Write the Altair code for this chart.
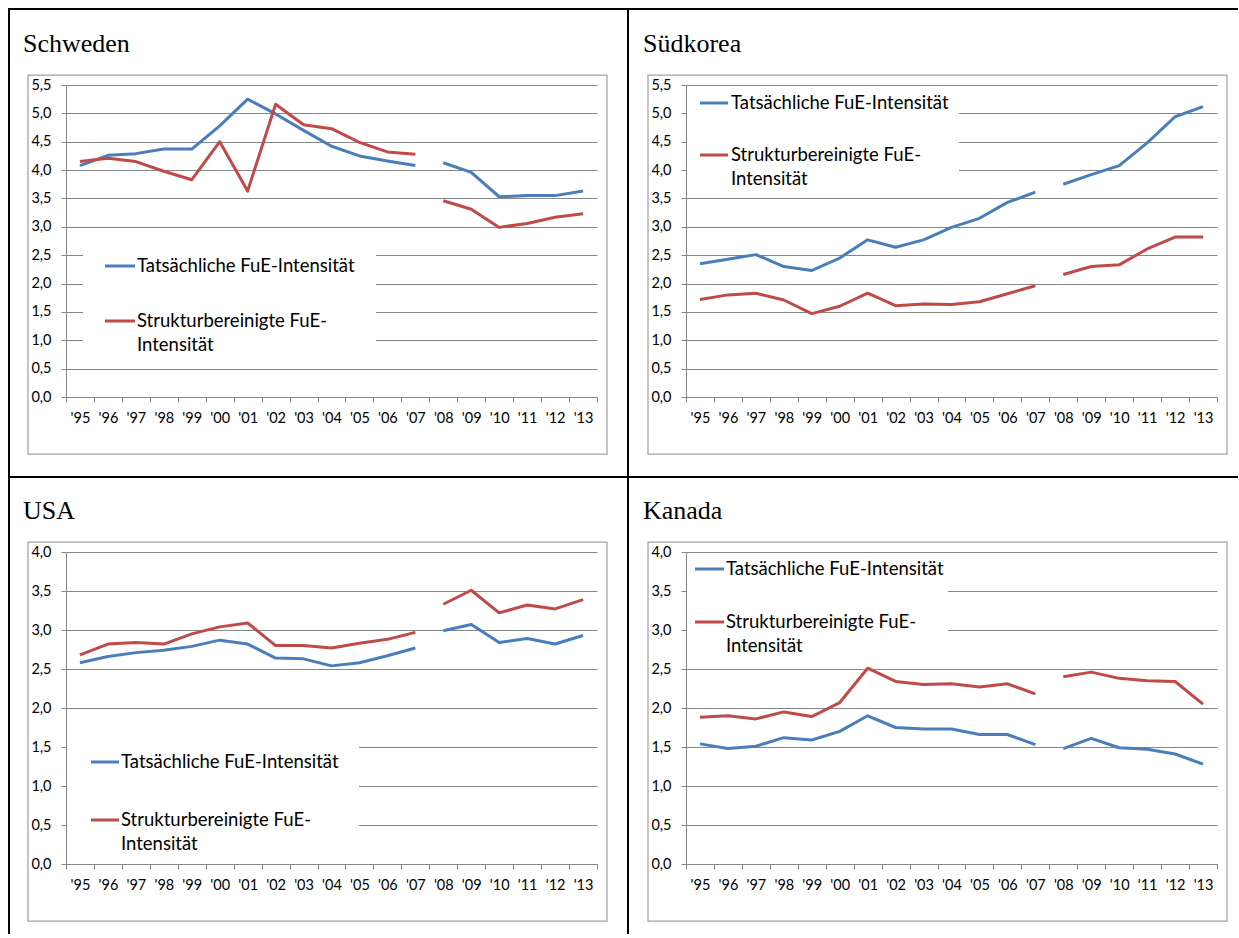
import json

import altair as alt
import pandas as pd

# Category axis: years 1995-2013; the series break between '07 and '08
years = ["'95", "'96", "'97", "'98", "'99", "'00", "'01", "'02", "'03", "'04",
         "'05", "'06", "'07", "'08", "'09", "'10", "'11", "'12", "'13"]
segment = [1] * 13 + [2] * 6

schweden_actual = [4.08, 4.26, 4.29, 4.37, 4.37, 4.78, 5.25, 4.99, 4.70, 4.42,
                   4.25, 4.16, 4.08, 4.13, 3.96, 3.53, 3.55, 3.55, 3.63]
schweden_adjusted = [4.15, 4.21, 4.15, 3.98, 3.83, 4.50, 3.63, 5.16, 4.80, 4.73,
                     4.49, 4.32, 4.28, 3.46, 3.31, 2.99, 3.06, 3.17, 3.23]

suedkorea_actual = [2.35, 2.43, 2.51, 2.30, 2.23, 2.45, 2.77, 2.64, 2.77, 2.99,
                    3.15, 3.43, 3.61, 3.75, 3.92, 4.08, 4.48, 4.94, 5.12]
suedkorea_adjusted = [1.72, 1.80, 1.83, 1.71, 1.47, 1.60, 1.83, 1.61, 1.64, 1.63,
                      1.68, 1.82, 1.96, 2.16, 2.30, 2.33, 2.61, 2.82, 2.82]

usa_actual = [2.58, 2.66, 2.71, 2.74, 2.79, 2.87, 2.82, 2.64, 2.63, 2.54,
              2.58, 2.67, 2.77, 2.99, 3.07, 2.84, 2.89, 2.82, 2.93]
usa_adjusted = [2.68, 2.82, 2.84, 2.82, 2.95, 3.04, 3.09, 2.80, 2.80, 2.77,
                2.83, 2.88, 2.97, 3.33, 3.51, 3.22, 3.32, 3.27, 3.39]

kanada_actual = [1.54, 1.48, 1.51, 1.62, 1.59, 1.70, 1.90, 1.75, 1.73, 1.73,
                 1.66, 1.66, 1.53, 1.48, 1.61, 1.49, 1.47, 1.41, 1.28]
kanada_adjusted = [1.88, 1.90, 1.86, 1.95, 1.89, 2.07, 2.51, 2.34, 2.30, 2.31,
                   2.27, 2.31, 2.18, 2.40, 2.46, 2.38, 2.35, 2.34, 2.05]

label_actual = "Tatsächliche FuE-Intensität"
label_adjusted = ["Strukturbereinigte FuE-", "Intensität"]

W, H = 531, 312
BLUE = "#4A7EBB"
RED = "#BE4B48"
GRID = "#868686"
BOX = "#a3a3a3"
SANS = "Lato"
SERIF = "Liberation Serif"
LEGEND_SIZE = 18.5


def single():
    return alt.Data(values=[{}])


def hrule(x0, x1, y, color="black", width=2):
    return alt.Chart(single()).mark_rule(color=color, strokeWidth=width).encode(
        x=alt.value(x0), x2=alt.value(x1), y=alt.value(y))


def vrule(x, y0, y1, color="black", width=2):
    return alt.Chart(single()).mark_rule(color=color, strokeWidth=width).encode(
        x=alt.value(x), y=alt.value(y0), y2=alt.value(y1))


def text_at(x, y, txt, font=SANS, size=LEGEND_SIZE, baseline="middle"):
    return alt.Chart(single()).mark_text(
        align="left", baseline=baseline, font=font, fontSize=size, color="black"
    ).encode(x=alt.value(x), y=alt.value(y), text=alt.value(txt))


def panel(title, actual, adjusted, ymax, legend, frame):
    df = pd.DataFrame({
        "pos": [i + 0.5 for i in range(len(years))],
        "year": years,
        "seg": segment,
        "actual": actual,
        "adjusted": adjusted,
    })
    x = alt.X(
        "pos:Q",
        scale=alt.Scale(domain=[0, len(years)], nice=False, zero=False),
        axis=alt.Axis(
            values=list(range(len(years) + 1)),
            labelExpr=json.dumps(years) + "[datum.value] || ''",
            labelOffset=W / len(years) / 2,
            labelAlign="center",
            labelFlush=False,
            labelOverlap=False,
            labelPadding=9,
            tickSize=5,
            tickColor=GRID,
            domainColor=GRID,
            grid=False,
            title=None,
        ),
    )
    n = int(round(ymax / 0.5))
    yscale = alt.Scale(domain=[0, ymax], nice=False, zero=True)
    yaxis = alt.Axis(
        values=[k * 0.5 for k in range(n + 1)],
        labelExpr="replace(format(datum.value, '.1f'), '.', ',')",
        grid=True,
        gridColor=GRID,
        gridWidth=1,
        tickSize=5,
        tickColor=GRID,
        domainColor=GRID,
        labelPadding=10,
        title=None,
    )
    base = alt.Chart(df)

    def series_line(field, color):
        return base.mark_line(color=color, strokeWidth=3, strokeJoin="round").encode(
            x=x, y=alt.Y(f"{field}:Q", scale=yscale, axis=yaxis), detail="seg:N")

    lx0, lx1, ly0, ly1, sx0, sx1, tx, by, ry = legend
    layers = [
        # chart-area frame
        alt.Chart(single()).mark_rect(fill="white", fillOpacity=0, stroke=BOX, strokeWidth=1.25).encode(
            x=alt.value(-38), x2=alt.value(541), y=alt.value(-10), y2=alt.value(369)),
        series_line("actual", BLUE),
        series_line("adjusted", RED),
        # legend background hides the gridlines behind it
        alt.Chart(single()).mark_rect(color="white").encode(
            x=alt.value(lx0), x2=alt.value(lx1), y=alt.value(ly0), y2=alt.value(ly1)),
        hrule(sx0, sx1, by, color=BLUE, width=3),
        hrule(sx0, sx1, ry, color=RED, width=3),
        text_at(tx, by, label_actual),
        text_at(tx, ry, label_adjusted[0]),
        text_at(tx, ry + 24, label_adjusted[1]),
        text_at(-43, -33, title, font=SERIF, size=26, baseline="alphabetic"),
    ]
    top_y, top_x0, top_x1, left_x, left_y0, left_y1 = frame
    layers.append(hrule(top_x0, top_x1, top_y))
    layers.append(vrule(left_x, left_y0, left_y1))
    return alt.layer(*layers).properties(width=W, height=H)


sweden = panel("Schweden", schweden_actual, schweden_adjusted, 5.5,
               (17, 310, 150, 276, 39, 69, 71, 181, 236),
               (-76, -58, 563, -57, -77, 393))
korea = panel("Südkorea", suedkorea_actual, suedkorea_adjusted, 5.5,
              (1, 273, 8, 100, 14, 42, 45, 18, 70),
              (-76, -59, 552, -58, -77, 393))
usa = panel("USA", usa_actual, usa_adjusted, 4.0,
            (1, 293, 165, 305, 25, 53, 55, 210, 268),
            (-75, -58, 563, -57, -76, 382))
canada = panel("Kanada", kanada_actual, kanada_adjusted, 4.0,
               (1, 262, 8, 105, 9, 38, 40, 17, 70),
               (-75, -59, 552, -58, -76, 382))

chart = alt.concat(
    sweden, korea, usa, canada,
    columns=2,
    spacing={"row": 155, "column": 89},
    bounds="flush",
).properties(
    padding={"left": 7, "top": 7, "right": 0, "bottom": 0},
).configure_view(
    strokeWidth=0,
).configure_axis(
    labelFont=SANS,
    labelFontSize=14.5,
    labelColor="black",
)

chart.save("out.html", embed_options={"renderer": "svg", "actions": False})
